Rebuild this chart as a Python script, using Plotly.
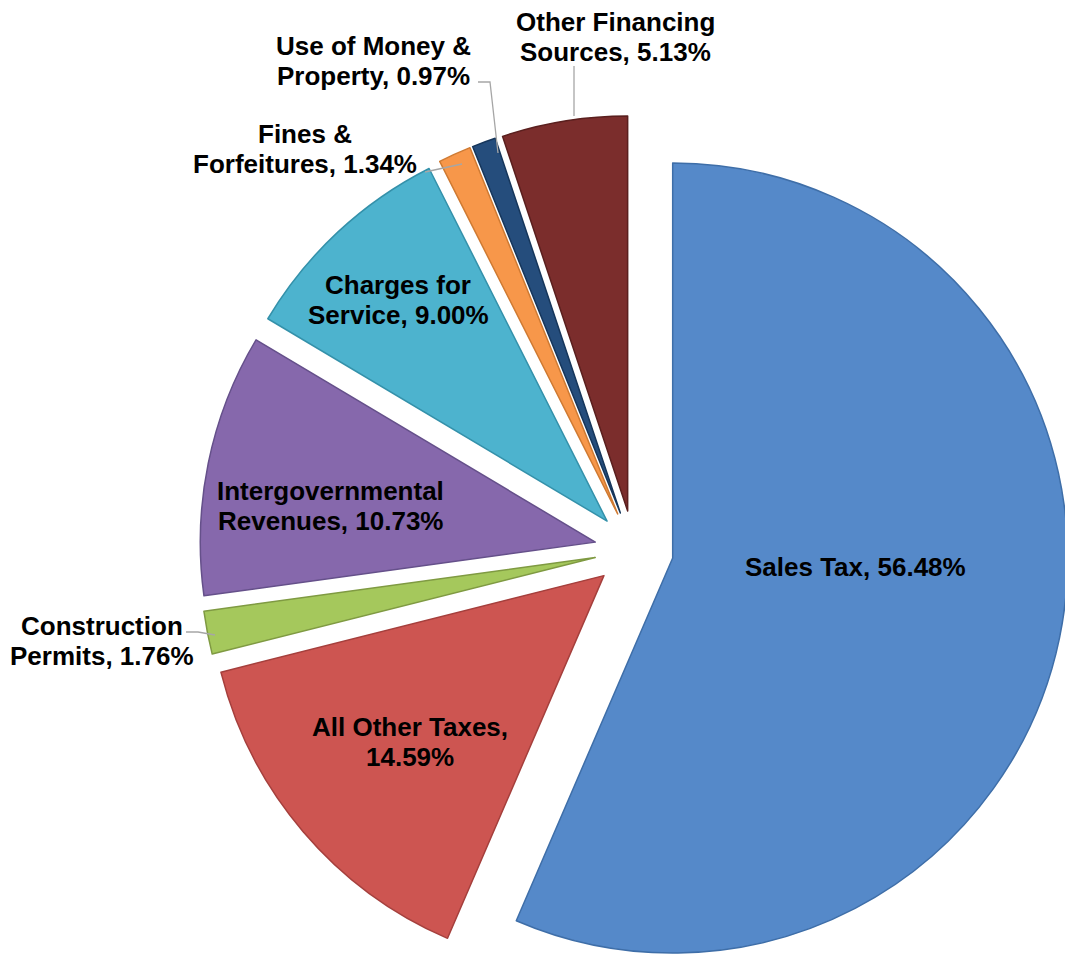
import plotly.graph_objects as go

W, H = 1080, 1000
PAGE_OFFSET = 8  # the page body margin shifts the figure by 8px

labels = ["Sales Tax", "All Other Taxes", "Construction Permits",
          "Intergovernmental Revenues", "Charges for Service",
          "Fines & Forfeitures", "Use of Money & Property",
          "Other Financing Sources"]
shares = [56.48, 14.59, 1.76, 10.73, 9.00, 1.34, 0.97, 5.13]

colors = ["#5589C9", "#CD5551", "#A5C85C", "#8668AC",
          "#4DB3CE", "#F7974A", "#254D7C", "#7B2D2C"]
edge_colors = ["#3E6EA8", "#A53F3C", "#7F9A42", "#65508A",
               "#3491AA", "#CF7A32", "#16365B", "#5A1F1E"]

# words on the first line of each data label (0 = single line)
first_line_words = [0, 3, 1, 1, 2, 2, 4, 2]
# label centres in page pixels (first line)
label_x = [855, 410, 102, 330, 398, 305, 373, 615]
label_y = [567, 727, 626, 491, 285, 134, 46, 22]
line_gap = 30

# leader lines for the labels sitting outside the pie (page pixels)
leaders = [
    [(186, 632), (198, 632), (215, 635)],
    [(425, 172), (462, 164)],
    [(478, 82), (490, 82), (498, 153)],
    [(574, 66), (574, 116)],
]


def px(x):
    return (x - PAGE_OFFSET) / W


def py(y):
    return 1 - (y - PAGE_OFFSET) / H


# pie centre (figure pixels) and half size of the pie box
cx, cy, half = 626, 542, 434.5

fig = go.Figure()

fig.add_trace(go.Pie(
    labels=labels,
    values=shares,
    sort=False,
    direction="clockwise",
    rotation=0,
    pull=[0.1] * len(shares),
    marker=dict(colors=colors, line=dict(color=edge_colors, width=1.5)),
    textinfo="none",
    hoverinfo="label+percent",
    showlegend=False,
    domain=dict(x=[(cx - half) / W, (cx + half) / W],
                y=[1 - (cy + half) / H, 1 - (cy - half) / H]),
))

for lab, val, n, x, y in zip(labels, shares, first_line_words, label_x, label_y):
    words = f"{lab}, {val:.2f}%".split(" ")
    lines = [" ".join(words)] if n == 0 else [" ".join(words[:n]), " ".join(words[n:])]
    for i, line in enumerate(lines):
        fig.add_annotation(
            x=px(x), y=py(y + i * line_gap), xref="paper", yref="paper",
            text=f"<b>{line}</b>", showarrow=False, borderpad=0,
            xanchor="center", yanchor="middle",
            font=dict(family="Liberation Sans, Arial, sans-serif", size=26, color="black"),
        )

for pts in leaders:
    path = "M " + " L ".join(f"{px(a)},{py(b)}" for a, b in pts)
    fig.add_shape(type="path", path=path, xref="paper", yref="paper",
                  line=dict(color="#A6A6A6", width=1.3))

fig.update_layout(
    width=W, height=H,
    margin=dict(l=0, r=0, t=0, b=0),
    paper_bgcolor="white",
    plot_bgcolor="white",
)

fig.write_html("out.html")
